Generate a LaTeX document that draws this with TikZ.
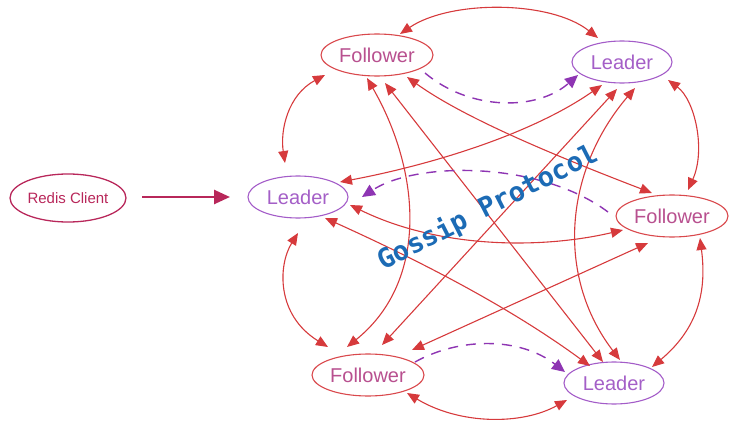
\documentclass[tikz,border=0pt]{standalone}
\usepackage{fontspec}
\setmainfont{Liberation Sans}
\newfontfamily\gossipfont{DejaVu Sans Mono}
\usetikzlibrary{arrows.meta,shapes.geometric,calc}
\definecolor{redline}{HTML}{D63A3C}
\definecolor{follstroke}{HTML}{D9484C}
\definecolor{folltext}{HTML}{B8508F}
\definecolor{leadstroke}{HTML}{A35CC8}
\definecolor{leadtext}{HTML}{A45FC7}
\definecolor{dashpurple}{HTML}{8E35B3}
\definecolor{clientcol}{HTML}{B8275A}
\definecolor{gossipblue}{HTML}{1C6BB5}
\tikzset{
  follower/.style={ellipse, draw=follstroke, line width=1.1pt, inner sep=0pt,
    minimum width=112pt, minimum height=42pt, text=folltext, font=\fontsize{20}{22}\selectfont},
  leader/.style={ellipse, draw=leadstroke, line width=1.1pt, inner sep=0pt,
    minimum width=100pt, minimum height=42pt, text=leadtext, font=\fontsize{20}{22}\selectfont},
  clientbox/.style={ellipse, draw=clientcol, line width=1.3pt, inner sep=0pt,
    minimum width=116pt, minimum height=48pt, text=clientcol, font=\fontsize{15}{17}\selectfont},
  link/.style={draw=redline, line width=1.1pt, {Triangle[length=12pt,width=10pt,fill=redline]}-{Triangle[length=12pt,width=10pt,fill=redline]}},
  gossipdash/.style={draw=dashpurple, line width=1.4pt, dash pattern=on 10pt off 8pt,
    -{Triangle[length=13pt,width=12pt,fill=dashpurple]}},
  clientarrow/.style={draw=clientcol, line width=2.6pt, -{Triangle[length=16pt,width=14pt,fill=clientcol]}}
}
\begin{document}
\begin{tikzpicture}[x=1pt,y=-1pt]
\useasboundingbox (0,0) rectangle (737,428);
% nodes
\node[clientbox] (RC) at (68,198) {Redis Client};
\node[leader]   (L1) at (298,197) {Leader};
\node[follower] (F1) at (377,55)  {Follower};
\node[leader]   (L2) at (622,62)  {Leader};
\node[follower] (F2) at (672,216) {Follower};
\node[follower] (F3) at (368,375) {Follower};
\node[leader]   (L3) at (614,383) {Leader};
% client arrow
\draw[clientarrow] ($(RC.center)+(74,-1)$) -- ($(L1.center)+(-68,0)$);
% outer ring arcs
\draw[link] ($(F1.center)+(23,-21)$) .. controls (450,0) and (550,0) .. ($(L2.center)+(-24,-24)$);
\draw[link] ($(L1.center)+(-13,-34)$) .. controls (280,130) and (288,95) .. ($(F1.center)+(-52,20)$);
\draw[link] ($(L2.center)+(46,18)$) .. controls (695,100) and (706,150) .. ($(F2.center)+(16,-26)$);
\draw[link] ($(L1.center)+(0,36)$) .. controls (278,265) and (276,315) .. ($(F3.center)+(-40,-28)$);
\draw[link] ($(F2.center)+(28,22)$) .. controls (706,285) and (702,325) .. ($(L3.center)+(38,-16)$);
\draw[link] ($(F3.center)+(39,18)$) .. controls (460,425) and (522,425) .. ($(L3.center)+(-47,17)$);
% diagonals
\draw[link] ($(F1.center)+(-10,23)$) .. controls (420,170) and (430,280) .. ($(F3.center)+(-21,-28)$);
\draw[link] ($(F1.center)+(8,28)$) -- ($(L3.center)+(-11,-21)$);
\draw[link] ($(F1.center)+(30,22)$) .. controls (460,115) and (540,150) .. ($(F2.center)+(-20,-23)$);
\draw[link] ($(L1.center)+(42,-15)$) .. controls (430,165) and (530,135) .. ($(L2.center)+(-20,23)$);
\draw[link] ($(L2.center)+(-5,27)$) -- ($(F3.center)+(14,-30)$);
\draw[link] ($(L2.center)+(13,26)$) .. controls (565,170) and (555,275) .. ($(L3.center)+(6,-23)$);
\draw[link] ($(L1.center)+(52,8)$) .. controls (440,249) and (542,249) .. ($(F2.center)+(-49,14)$);
\draw[link] ($(L1.center)+(27,21)$) .. controls (400,252) and (500,300) .. ($(L3.center)+(-24,-17)$);
\draw[link] ($(F2.center)+(-24,27)$) -- ($(F3.center)+(44,-25)$);
% dashed gossip arrows
\draw[gossipdash] ($(F1.center)+(48,18)$) .. controls (470,111) and (537,111) .. ($(L2.center)+(-44,13)$);
\draw[gossipdash] ($(F3.center)+(47,-13)$) .. controls (460,337) and (520,337) .. ($(L3.center)+(-49,-11)$);
\draw[gossipdash] ($(F2.center)+(-64,-4)$) .. controls (540,161) and (417,161) .. ($(L1.center)+(64,0)$);
% label
\node[text=gossipblue, rotate=27, font=\gossipfont\bfseries\fontsize{27}{29}\selectfont] (GP) at (488,208) {Gossip Protocol};
\end{tikzpicture}
\end{document}
